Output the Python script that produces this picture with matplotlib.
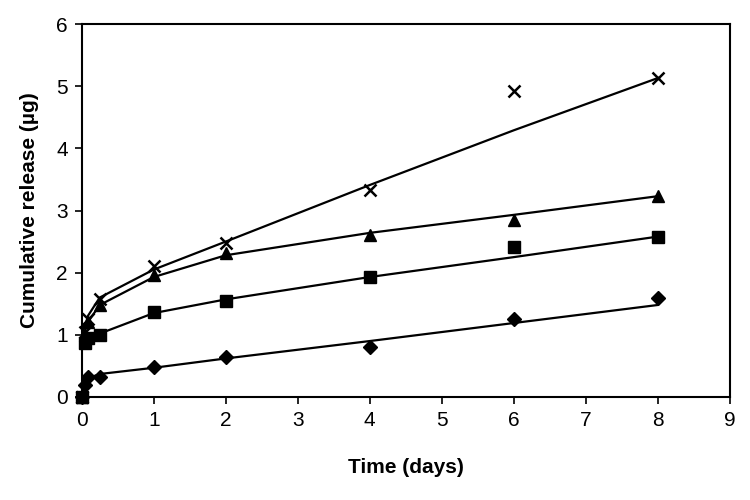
import matplotlib
matplotlib.use("Agg")
import matplotlib.pyplot as plt

plt.rcParams['font.family'] = ['Liberation Sans', 'DejaVu Sans']

# measured data
t = [0, 0.042, 0.083, 0.25, 1, 2, 4, 6, 8]
diamond = [0, 0.19, 0.32, 0.32, 0.48, 0.65, 0.80, 1.25, 1.59]
square = [0, 0.87, 0.95, 1.0, 1.36, 1.55, 1.93, 2.41, 2.57]
triangle = [0, 1.0, 1.2, 1.48, 1.96, 2.32, 2.60, 2.85, 3.24]
cross = [0, 1.05, 1.25, 1.57, 2.1, 2.47, 3.33, 4.93, 5.13]

# fitted curves
t_fit = [0.042, 0.083, 0.25, 1, 2, 4, 6, 8]
diamond_fit = [0.2, 0.3, 0.37, 0.47, 0.62, 0.9, 1.19, 1.48]
square_fit = [0.9, 0.95, 1.02, 1.35, 1.57, 1.93, 2.25, 2.58]
triangle_fit = [1.05, 1.2, 1.48, 1.93, 2.28, 2.64, 2.93, 3.23]
cross_fit = [1.1, 1.3, 1.6, 2.05, 2.5, 3.41, 4.29, 5.13]

x_ticks = [0, 1, 2, 3, 4, 5, 6, 7, 8, 9]
y_ticks = [0, 1, 2, 3, 4, 5, 6]

fig = plt.figure(figsize=(7.5, 5), dpi=100)
ax = fig.add_axes([0.109, 0.206, 0.864, 0.746])

for fit in (diamond_fit, square_fit, triangle_fit, cross_fit):
    ax.plot(t_fit, fit, color='black', lw=1.6, zorder=2)

kw = dict(linestyle='none', color='black', zorder=3, clip_on=False)
ax.plot(t, diamond, marker='D', ms=7, **kw)
ax.plot(t, square, marker='s', ms=8, **kw)
ax.plot(t, triangle, marker='^', ms=9, **kw)
ax.plot(t, cross, marker='x', ms=9, mew=1.8, **kw)

ax.set_xlim(0, 9)
ax.set_ylim(0, 6)
ax.set_xticks(x_ticks)
ax.set_yticks(y_ticks)
ax.tick_params(direction='out', length=5, width=1.2, labelsize=15, pad=5)
for s in ax.spines.values():
    s.set_linewidth(1.5)
ax.set_xlabel('Time (days)', fontsize=15, fontweight='bold', labelpad=20)
ax.set_ylabel('Cumulative release (µg)', fontsize=15, fontweight='bold', labelpad=12)

fig.savefig('out.png', dpi=100)
